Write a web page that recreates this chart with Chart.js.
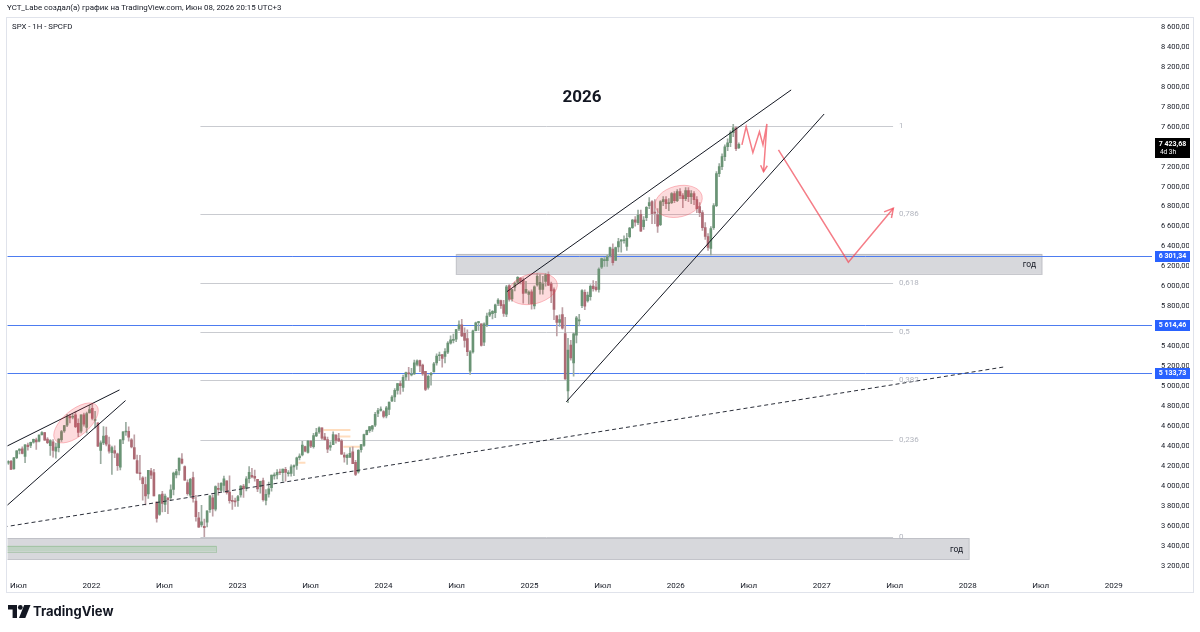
<!DOCTYPE html>
<html><head><meta charset="utf-8">
<script src="https://cdn.jsdelivr.net/npm/chart.js@4/dist/chart.umd.min.js"></script>
<style>
html,body{margin:0;padding:0;background:#fff;}
#wrap{position:relative;width:1200px;height:632px;overflow:hidden;font-family:Roboto,'Open Sans',sans-serif;color:#131722}
canvas{position:absolute;left:0;top:0}
.t{position:absolute;white-space:nowrap}
</style></head><body>
<div id="wrap">
<canvas id="c" width="1200" height="632"></canvas>
<div class="t" style="left:7px;top:2px;font-size:7.9px;line-height:12px;">YCT_Labe создал(а) график на TradingView.com, Июн 08, 2026 20:15 UTC+3</div>
<div class="t" style="left:12px;top:21px;font-size:7.8px;line-height:12px;">SPX - 1H - SPCFD</div>
<div class="t" style="left:582px;top:86px;transform:translateX(-50%);font-size:17px;font-weight:700;line-height:20px;">2026</div>
<svg class="t" style="left:8px;top:605px" width="23" height="13" viewBox="0 0 23 13"><path d="M0 0H9V13H4.6V4.5H0Z" fill="#131722"/><circle cx="12.3" cy="2.4" r="2.4" fill="#131722"/><path d="M16.2 0H22.5L17.3 13H11Z" fill="#131722"/></svg>
<div class="t" style="left:33px;top:602px;font-family:Inter,Roboto,sans-serif;font-size:13px;font-weight:700;line-height:18px;">TradingView</div>
</div>
<script>
// ---- weekly candles, first week starting 2021-06-07 ----
const firstWeek = Date.UTC(2021, 5, 7);
const opens = [
4229,4248,4174,4285,4356,4372,4296,4410,4406,4438,4462,4450,4514,4536,4469,4403,4442,4349,4385,4464,4553,4610,4701,4689,4712,4628,4549,4714,4588,4733,
4778,4656,4632,4357,4431,4506,4412,4333,4354,4323, 4188,4462,4541,4547,4462,4385,4255,4131,4082,4013, 3920,4151,4134,3838,3715,3920,3815,3880,3883,3965, 4112,4155,4270,4195,4034,3909,4083,3849,3682,3610, 3595,3638,3763,3882,3767,3977,3956,4005,4052,3940, 3853,3843,
3853,3911,3999,3979,4073,4106,4097,4066,3993,4055, 3856,3917,3982,4102,4110,4140,4134,4166,4124,4126, 4190,4205,4283,4311,4396,4337,4450,4394,4502,4543, 4584,4492,4464,4389,4415,4510,4474,4453,4310,4284, 4289,4342,4236,4140,4365,4407,4514,4555,4569,4610, 4726,4758,
4745,4703,4767,4853,4892,4957,5027,4989,5093,5130, 5112,5123,5219,5257,5211,5149,4988,5114,5143,5233, 5305,5316,5298,5341,5432,5460,5471,5573,5616,5529, 5476,5151,5344,5557,5637,5624,5442,5615,5711,5727, 5737,5830,5857,5819,5722,6008,5875,5992,6040,6083, 6064,5941,5920,
5945,5804,6014,5969,5970,6049,6122,6027,5968,5705, 5640,5718,5527,4953,5412,5233,5511,5655,5807,5941, 5854,5897,6004,5993,5970,6193,6259,6259,6306,6375, 6261,6395,6453,6458,6401,6498,6590,6667,6640,6723, 6600,6690,6810,6850,6740,6720,6620,6850,6870,6830, 6840,6930,
6860,6950,6910,6880,6960,6900,6930,6870,6800,6740, 6590,6500,6380,6590,6810,7130,7200,7300,7400,7440, 7540,7590,7390
];
const highs = [
4255,4258,4287,4356,4372,4393,4415,4430,4441,4469,4480,4513,4546,4537,4486,4465,4466,4429,4475,4559,4608,4718,4714,4718,4744,4672,4713,4731,4741,4808,
4819,4749,4632,4453,4596,4590,4490,4399,4402,4329, 4465,4546,4637,4593,4475,4513,4309,4308,4095,4090, 4158,4178,4168,3840,3914,3946,3919,3883,4012,4140, 4168,4280,4325,4203,4062,4077,4140,3907,3736,3806, 3669,3752,3905,3912,4001,4028,4034,4100,4052,4101, 3905,3879,
3906,4003,4016,4095,4195,4176,4160,4066,4048,4079, 3964,4039,4110,4133,4164,4170,4170,4187,4154,4213, 4213,4290,4323,4448,4400,4458,4456,4528,4579,4594, 4584,4527,4491,4443,4542,4514,4527,4466,4336,4320, 4385,4393,4256,4366,4418,4520,4560,4595,4609,4739, 4778,4793,
4755,4798,4842,4907,4975,5030,5048,5111,5141,5189, 5179,5262,5264,5263,5222,5150,5114,5140,5239,5325, 5342,5318,5376,5447,5506,5523,5570,5655,5670,5585, 5566,5358,5563,5643,5651,5626,5636,5733,5767,5757, 5823,5878,5863,5860,6012,6018,5972,6044,6099,6086, 6085,6050,5956,
5965,6005,6128,6120,6101,6128,6147,6043,5987,5705, 5715,5787,5691,5481,5459,5532,5700,5720,5969,5966, 5944,6017,6059,6050,6187,6285,6290,6315,6395,6427, 6395,6481,6469,6508,6533,6592,6672,6699,6764,6765, 6700,6800,6890,6860,6870,6780,6860,6900,6900,6880, 6940,6950,
6970,6980,6930,6990,6990,6960,6950,6900,6840,6760, 6640,6530,6600,6830,7150,7230,7330,7420,7480,7560, 7625,7600,7440
];
const lows = [
4217,4165,4165,4274,4321,4322,4234,4360,4385,4429,4367,4441,4509,4457,4424,4306,4288,4279,4342,4447,4537,4595,4631,4672,4585,4495,4532,4600,4532,4733,
4662,4582,4395,4223,4415,4401,4329,4115,4285,4157, 4161,4424,4507,4450,4381,4269,4124,4062,3859,3810, 3875,4074,3900,3637,3705,3741,3743,3722,3853,3911, 4080,4110,4220,4057,3907,3887,3838,3647,3584,3591, 3491,3591,3734,3698,3751,3907,3946,3938,3919,3828, 3764,3796,
3795,3887,3885,3950,4031,4080,4047,3943,3928,3847, 3809,3889,3949,4069,4072,4114,4049,4048,4099,4098, 4103,4166,4260,4302,4341,4329,4385,4380,4493,4528, 4467,4458,4335,4356,4414,4430,4448,4316,4238,4216, 4284,4223,4104,4128,4340,4397,4511,4537,4546,4594, 4695,4751,
4682,4682,4714,4845,4845,4919,4920,4947,5058,5057, 5104,5118,5204,5146,5108,4954,4970,5011,5142,5211, 5256,5191,5234,5325,5420,5433,5446,5557,5497,5390, 5306,5119,5331,5555,5560,5402,5406,5596,5698,5675, 5686,5807,5779,5700,5697,5853,5853,5956,6024,6025, 5833,5929,5825,
5773,5774,6003,5923,5923,6003,6008,5837,5667,5505, 5598,5572,5069,4835,5262,5101,5434,5603,5786,5767, 5843,5861,5953,5952,5943,6178,6201,6201,6294,6212, 6261,6346,6344,6433,6360,6486,6582,6603,6620,6550, 6570,6660,6780,6630,6630,6540,6610,6810,6780,6760, 6830,6840,
6850,6880,6790,6860,6850,6830,6820,6740,6700,6560, 6470,6360,6315,6570,6800,7100,7170,7260,7360,7400, 7500,7360,7380
];
const closes = [
4247,4166,4281,4352,4370,4327,4412,4395,4437,4468,4442,4509,4535,4459,4433,4455,4357,4391,4471,4545,4605,4697,4683,4698,4595,4538,4712,4620,4725,4766,
4677,4663,4398,4432,4501,4419,4349,4385,4329,4204, 4463,4543,4546,4488,4392,4272,4132,4123,4024,3901, 4158,4109,3901,3675,3912,3825,3899,3863,3962,4130, 4145,4280,4228,4058,3924,4067,3873,3693,3586,3640, 3583,3752,3901,3771,3993,3965,4026,4072,3934,3852, 3845,3840,
3895,3999,3973,4071,4136,4090,4079,3970,4046,3862, 3917,3971,4109,4105,4137,4133,4169,4136,4124,4192, 4205,4282,4299,4410,4348,4450,4399,4505,4536,4582, 4478,4464,4370,4406,4516,4457,4450,4320,4288,4308, 4327,4224,4117,4358,4415,4514,4559,4595,4604,4719, 4755,4770,
4697,4784,4840,4891,4959,5027,5005,5089,5137,5124, 5117,5234,5254,5204,5123,4967,5100,5128,5223,5303, 5305,5278,5347,5432,5465,5460,5567,5615,5505,5459, 5346,5344,5554,5634,5648,5408,5626,5703,5738,5751, 5815,5864,5808,5729,5995,5870,5969,6032,6090,6051, 5931,5971,5942,
5827,5997,6101,6041,6026,6115,6013,5955,5770,5639, 5668,5581,5074,5363,5283,5525,5686,5660,5958,5803, 5912,6000,5977,5968,6173,6279,6260,6297,6389,6238, 6389,6449,6467,6460,6482,6584,6664,6644,6716,6553, 6664,6792,6840,6729,6734,6603,6849,6870,6830,6840, 6930,6860,
6950,6910,6880,6960,6900,6930,6870,6780,6740,6590, 6500,6390,6580,6810,7130,7200,7300,7400,7440,7540, 7590,7380,7424
];

// ---- axes ----
const timeTicks = [2021.5,2022,2022.5,2023,2023.5,2024,2024.5,2025,2025.5,2026,2026.5,2027,2027.5,2028,2028.5,2029];
const priceTicks = [3200,3400,3600,3800,4000,4200,4400,4600,4800,5000,5200,5400,5600,5800,6000,6200,6400,6600,6800,7000,7200,7400,7600,7800,8000,8200,8400,8600];

// ---- drawings (time in decimal years, price) ----
const fibLevels = [0, 0.236, 0.382, 0.5, 0.618, 0.786, 1];
const fibLabels = ['0','0,236','0,382','0,5','0,618','0,786','1'];
const fibLow = 3488, fibHigh = 7608, fibFrom = 2022.746, fibTo = 2027.489;
const hLines = [6301.34, 5614.46, 5133.73];
const lastPrice = 7423.68;
const zones = [
  {t0: 2024.498, t1: 2028.509, lo: 6125, hi: 6326, label: 'год'},
  {t0: 2021.30, t1: 2028.010, lo: 3265, hi: 3475, label: 'год'}
];
const greenBox = {t0: 2021.30, t1: 2022.856, lo: 3343, hi: 3403};
const channelUpper = [{x: 2024.845, y: 5948}, {x: 2026.791, y: 7969}];
const channelLower = [{x: 2025.251, y: 4843}, {x: 2027.017, y: 7728}];
const leftUpper = [{x: 2021.40, y: 4384}, {x: 2022.192, y: 4963}];
const leftLower = [{x: 2021.40, y: 3777}, {x: 2022.233, y: 4856}];
const dashedTrend = [{x: 2021.40, y: 3589}, {x: 2028.249, y: 5193}];
const zigzag = [{x: 2026.454, y: 7418}, {x: 2026.483, y: 7601}, {x: 2026.529, y: 7341}, {x: 2026.574, y: 7551}, {x: 2026.598, y: 7418}, {x: 2026.625, y: 7628}, {x: 2026.602, y: 7150}];
const scenario = [{x: 2026.704, y: 7368}, {x: 2027.183, y: 6243}, {x: 2027.491, y: 6784}];
const ellipses = [
  {t: 2021.894, v: 4632, a: 27, b: 13, rot: -40},
  {t: 2025.022, v: 5975, a: 25, b: 15, rot: -14},
  {t: 2026.021, v: 6852, a: 24, b: 15.5, rot: -14}
];
const orangeMarks = [
  {t0: 2023.588, t1: 2023.773, v: 4562}, {t0: 2023.684, t1: 2023.773, v: 4495},
  {t0: 2023.725, t1: 2023.841, v: 4392}, {t0: 2023.417, t1: 2023.465, v: 4232}
];

function decYear(ms) {
  const d = new Date(ms), y = d.getUTCFullYear();
  const s = Date.UTC(y, 0, 1), e = Date.UTC(y + 1, 0, 1);
  return y + (ms - s) / (e - s);
}
const weeks = opens.map((_, i) => decYear(firstWeek + i * 7 * 864e5));
if (!(opens.length === highs.length && highs.length === lows.length && lows.length === closes.length)) {
  console.error('length mismatch', opens.length, highs.length, lows.length, closes.length);
}
const up = closes.map((c, i) => c >= opens[i]);
const fmtPrice = v => { const [i, d] = v.toFixed(2).split('.'); return (i.length > 3 ? i.slice(0, -3) + ' ' + i.slice(-3) : i) + ',' + d; };

const RED = 'rgba(242,82,95,0.75)';
const overlay = {
  id: 'overlay',
  beforeDatasetsDraw(chart) {
    const {ctx, chartArea: a, scales: {x, y}} = chart;
    ctx.save();
    ctx.beginPath(); ctx.rect(a.left, a.top, a.right - a.left, a.bottom - a.top); ctx.clip();
    zones.forEach(z => {
      const x0 = x.getPixelForValue(z.t0), x1 = x.getPixelForValue(z.t1);
      const y0 = y.getPixelForValue(z.hi), y1 = y.getPixelForValue(z.lo);
      ctx.fillStyle = 'rgba(190,192,198,0.62)';
      ctx.fillRect(x0, y0, x1 - x0, y1 - y0);
      ctx.strokeStyle = 'rgba(175,177,184,0.7)'; ctx.lineWidth = 1;
      ctx.strokeRect(x0, Math.round(y0) + 0.5, x1 - x0, Math.round(y1 - y0));
    });
    {
      const g = greenBox;
      const x0 = x.getPixelForValue(g.t0), x1 = x.getPixelForValue(g.t1);
      const y0 = y.getPixelForValue(g.hi), y1 = y.getPixelForValue(g.lo);
      ctx.fillStyle = 'rgba(150,200,150,0.35)'; ctx.fillRect(x0, y0, x1 - x0, y1 - y0);
      ctx.strokeStyle = 'rgba(130,180,130,0.45)'; ctx.strokeRect(x0, Math.round(y0) + 0.5, x1 - x0, Math.round(y1 - y0));
    }
    ctx.strokeStyle = '#c9cbd0'; ctx.lineWidth = 1;
    fibLevels.forEach(l => {
      const py = Math.round(y.getPixelForValue(fibLow + l * (fibHigh - fibLow))) + 0.5;
      ctx.beginPath(); ctx.moveTo(x.getPixelForValue(fibFrom), py); ctx.lineTo(x.getPixelForValue(fibTo), py); ctx.stroke();
    });
    ctx.strokeStyle = '#4d7cf0';
    hLines.forEach(v => {
      const py = Math.round(y.getPixelForValue(v)) + 0.5;
      ctx.beginPath(); ctx.moveTo(a.left - 1, py); ctx.lineTo(a.right, py); ctx.stroke();
    });
    ctx.strokeStyle = 'rgba(255,180,110,0.45)'; ctx.lineWidth = 2;
    orangeMarks.forEach(m => {
      const py = y.getPixelForValue(m.v);
      ctx.beginPath(); ctx.moveTo(x.getPixelForValue(m.t0), py); ctx.lineTo(x.getPixelForValue(m.t1), py); ctx.stroke();
    });
    ctx.restore();
  },
  afterDatasetsDraw(chart) {
    const {ctx, chartArea: a, scales: {x, y}} = chart;
    ctx.save();
    ctx.beginPath(); ctx.rect(a.left, a.top, a.right - a.left, a.bottom - a.top); ctx.clip();
    ellipses.forEach(e => {
      ctx.beginPath();
      ctx.ellipse(x.getPixelForValue(e.t), y.getPixelForValue(e.v), e.a, e.b, e.rot * Math.PI / 180, 0, Math.PI * 2);
      ctx.fillStyle = 'rgba(242,54,69,0.18)'; ctx.fill();
      ctx.strokeStyle = 'rgba(242,54,69,0.3)'; ctx.lineWidth = 1; ctx.stroke();
    });
    const head = (p, q, len) => {
      const x1 = x.getPixelForValue(p.x), y1 = y.getPixelForValue(p.y);
      const x2 = x.getPixelForValue(q.x), y2 = y.getPixelForValue(q.y);
      const ang = Math.atan2(y2 - y1, x2 - x1);
      ctx.beginPath();
      ctx.moveTo(x2 - len * Math.cos(ang - 0.5), y2 - len * Math.sin(ang - 0.5));
      ctx.lineTo(x2, y2);
      ctx.lineTo(x2 - len * Math.cos(ang + 0.5), y2 - len * Math.sin(ang + 0.5));
      ctx.strokeStyle = RED; ctx.lineWidth = 1.5; ctx.stroke();
    };
    head(zigzag[zigzag.length - 2], zigzag[zigzag.length - 1], 7);
    head(scenario[scenario.length - 2], scenario[scenario.length - 1], 10);
    ctx.font = '8px Roboto, sans-serif'; ctx.fillStyle = '#b2b5be'; ctx.textAlign = 'left'; ctx.textBaseline = 'middle';
    fibLevels.forEach((l, i) => {
      ctx.fillText(fibLabels[i], x.getPixelForValue(fibTo) + 6, y.getPixelForValue(fibLow + l * (fibHigh - fibLow)));
    });
    ctx.font = '8.5px Roboto, sans-serif'; ctx.fillStyle = '#131722'; ctx.textAlign = 'right';
    zones.forEach(z => {
      ctx.fillText(z.label, x.getPixelForValue(z.t1) - 6, (y.getPixelForValue(z.hi) + y.getPixelForValue(z.lo)) / 2 + 1);
    });
    ctx.restore();
  },
  afterDraw(chart) {
    const {ctx, scales: {y}} = chart;
    ctx.save();
    ctx.textAlign = 'center'; ctx.textBaseline = 'middle';
    hLines.forEach(v => {
      const py = Math.round(y.getPixelForValue(v));
      ctx.fillStyle = '#2962ff'; ctx.fillRect(1155, py - 5, 35, 11);
      ctx.fillStyle = '#fff'; ctx.font = 'bold 7px Roboto, sans-serif';
      ctx.fillText(fmtPrice(v), 1172.5, py + 0.5);
    });
    const py = Math.round(y.getPixelForValue(lastPrice));
    ctx.fillStyle = '#000'; ctx.fillRect(1155, py - 6, 35, 20);
    ctx.fillStyle = '#fff'; ctx.font = 'bold 7px Roboto, sans-serif';
    ctx.fillText(fmtPrice(lastPrice), 1172.5, py);
    ctx.font = '6.5px Roboto, sans-serif';
    ctx.fillText('4d 3h', 1168, py + 8);
    ctx.strokeStyle = '#e0e3eb'; ctx.lineWidth = 1;
    ctx.strokeRect(6.5, 17.5, 1187, 575);
    ctx.restore();
  }
};

const line = (data, extra) => Object.assign({type: 'line', data, borderColor: '#131722', borderWidth: 1, pointRadius: 0, fill: false, order: 0, tension: 0}, extra || {});

new Chart(document.getElementById('c'), {
  type: 'bar',
  data: {
    datasets: [
      {label: 'wick', data: weeks.map((t, i) => ({x: t, y: [lows[i], highs[i]]})), backgroundColor: up.map(u => u ? '#9aaca0' : '#bda0a5'), barThickness: 1, grouped: false, order: 3, borderWidth: 0},
      {label: 'body', data: weeks.map((t, i) => ({x: t, y: [opens[i], closes[i]]})), backgroundColor: up.map(u => u ? '#6a9475' : '#ad6a74'), barThickness: 2, grouped: false, order: 2, borderWidth: 0, minBarLength: 1},
      line(leftUpper), line(leftLower), line(channelUpper), line(channelLower),
      line(dashedTrend, {borderDash: [4, 3], borderColor: '#2a2e39'}),
      line(zigzag, {borderColor: RED, borderWidth: 1.5}),
      line(scenario, {borderColor: RED, borderWidth: 1.5})
    ]
  },
  options: {
    responsive: false, animation: false, devicePixelRatio: 1,
    layout: {padding: {left: 7, top: 18, right: 11, bottom: 40}},
    plugins: {legend: {display: false}, tooltip: {enabled: false}},
    scales: {
      x: {
        type: 'linear', min: 2021.425, max: 2029.262, offset: false,
        grid: {display: false, drawTicks: false, offset: false}, border: {display: false},
        afterBuildTicks: s => { s.ticks = timeTicks.map(v => ({value: v})); },
        afterFit: s => { s.height = 21; },
        ticks: {autoSkip: false, maxRotation: 0, padding: 10, color: '#131722', font: {family: 'Roboto', size: 8}, 
          callback: v => (Math.abs(v - Math.round(v)) < 1e-6 ? String(Math.round(v)) : 'Июл')}
      },
      y: {
        position: 'right', min: 3148, max: 8690,
        grid: {display: false, drawTicks: false}, border: {display: false},
        afterBuildTicks: s => { s.ticks = priceTicks.map(v => ({value: v})); },
        afterFit: s => { s.width = 37; },
        ticks: {autoSkip: false, padding: 9, color: '#131722', font: {family: 'Roboto', size: 7.5}, callback: v => fmtPrice(v)}
      }
    }
  },
  plugins: [overlay]
});
</script>
</body></html>
